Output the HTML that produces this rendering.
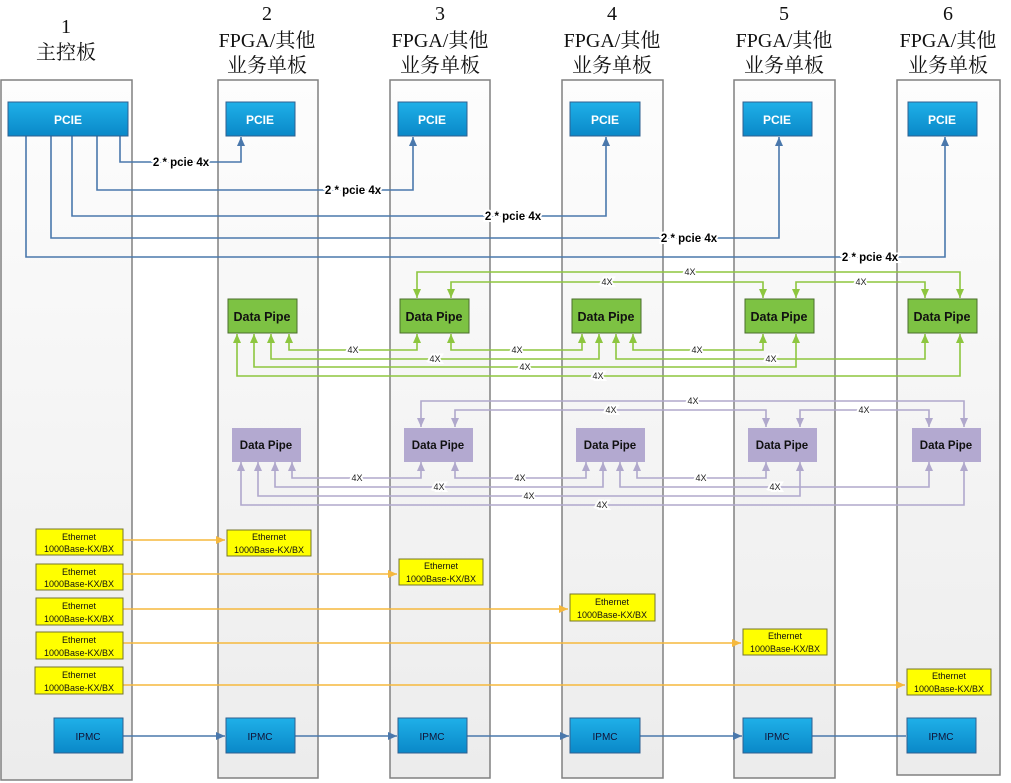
<!DOCTYPE html>
<html><head><meta charset="utf-8"><style>
html,body{margin:0;padding:0;background:#fff;}
svg{display:block;}
.t{font-family:"Liberation Serif","Noto Serif CJK SC",serif;font-size:20px;fill:#111;text-anchor:middle;}
.bl{font-family:"Liberation Sans",sans-serif;font-size:12px;font-weight:bold;fill:#fff;text-anchor:middle;}
.dp{font-family:"Liberation Sans",sans-serif;font-size:12.5px;font-weight:bold;fill:#111;text-anchor:middle;}
.dpp{font-family:"Liberation Sans",sans-serif;font-size:11.5px;font-weight:bold;fill:#111;text-anchor:middle;}
.et{font-family:"Liberation Sans",sans-serif;font-size:9px;fill:#111;text-anchor:middle;}
.ip{font-family:"Liberation Sans",sans-serif;font-size:10px;fill:#113;text-anchor:middle;}
.pl{font-family:"Liberation Sans",sans-serif;font-size:11.5px;font-weight:bold;fill:#000;text-anchor:middle;paint-order:stroke;stroke:#fff;stroke-width:4px;}
.x{font-family:"Liberation Sans",sans-serif;font-size:9px;fill:#222;text-anchor:middle;paint-order:stroke;stroke:#fff;stroke-width:4px;}
.b{fill:none;stroke:#4a78ac;stroke-width:1.6;}
.g{fill:none;stroke:#8dc63f;stroke-width:1.6;}
.p{fill:none;stroke:#b0a8cc;stroke-width:1.6;}
.o{fill:none;stroke:#f5b83d;stroke-width:1.4;}
</style></head><body>
<svg width="1011" height="783" viewBox="0 0 1011 783" xmlns="http://www.w3.org/2000/svg">
<defs>
<linearGradient id="col" x1="0" y1="0" x2="0" y2="1"><stop offset="0" stop-color="#fdfdfd"/><stop offset="1" stop-color="#ececec"/></linearGradient>
<linearGradient id="blue" x1="0" y1="0" x2="0" y2="1"><stop offset="0" stop-color="#1fb0e8"/><stop offset="1" stop-color="#0a88c8"/></linearGradient>
<marker id="ab" markerUnits="userSpaceOnUse" markerWidth="10" markerHeight="10" refX="9" refY="5" orient="auto-start-reverse"><path d="M0,1 L9,5 L0,9 z" fill="#4a78ac"/></marker>
<marker id="ag" markerUnits="userSpaceOnUse" markerWidth="10" markerHeight="10" refX="9" refY="5" orient="auto-start-reverse"><path d="M0,1 L9,5 L0,9 z" fill="#8dc63f"/></marker>
<marker id="ap" markerUnits="userSpaceOnUse" markerWidth="10" markerHeight="10" refX="9" refY="5" orient="auto-start-reverse"><path d="M0,1 L9,5 L0,9 z" fill="#b0a8cc"/></marker>
<marker id="ao" markerUnits="userSpaceOnUse" markerWidth="10" markerHeight="10" refX="9" refY="5" orient="auto"><path d="M0,1 L9,5 L0,9 z" fill="#f5b83d"/></marker>
</defs>

<!-- columns -->
<g fill="url(#col)" stroke="#808080" stroke-width="1.5">
<rect x="1" y="80" width="131" height="700"/>
<rect x="218" y="80" width="100" height="698"/>
<rect x="390" y="80" width="100" height="698"/>
<rect x="562" y="80" width="101" height="698"/>
<rect x="734" y="80" width="101" height="698"/>
<rect x="897" y="80" width="103" height="695"/>
</g>

<!-- titles -->
<text class="t" x="66" y="33">1</text><text class="t" x="66" y="59">主控板</text>
<text class="t" x="267" y="20">2</text><text class="t" x="267" y="47">FPGA/其他</text><text class="t" x="267" y="72">业务单板</text>
<text class="t" x="440" y="20">3</text><text class="t" x="440" y="47">FPGA/其他</text><text class="t" x="440" y="72">业务单板</text>
<text class="t" x="612" y="20">4</text><text class="t" x="612" y="47">FPGA/其他</text><text class="t" x="612" y="72">业务单板</text>
<text class="t" x="784" y="20">5</text><text class="t" x="784" y="47">FPGA/其他</text><text class="t" x="784" y="72">业务单板</text>
<text class="t" x="948" y="20">6</text><text class="t" x="948" y="47">FPGA/其他</text><text class="t" x="948" y="72">业务单板</text>

<!-- PCIE lines -->
<path class="b" d="M120 136 V162 H241 V137" marker-end="url(#ab)"/>
<path class="b" d="M97 136 V190 H413 V137" marker-end="url(#ab)"/>
<path class="b" d="M72 136 V216 H606 V137" marker-end="url(#ab)"/>
<path class="b" d="M51 136 V238 H779 V137" marker-end="url(#ab)"/>
<path class="b" d="M26 136 V257 H945 V137" marker-end="url(#ab)"/>
<text class="pl" x="181" y="166">2 * pcie 4x</text>
<text class="pl" x="353" y="194">2 * pcie 4x</text>
<text class="pl" x="513" y="220">2 * pcie 4x</text>
<text class="pl" x="689" y="242">2 * pcie 4x</text>
<text class="pl" x="870" y="261">2 * pcie 4x</text>

<!-- PCIE boxes -->
<g fill="url(#blue)" stroke="#2f5f8f" stroke-width="1">
<rect x="8" y="102" width="120" height="34"/>
<rect x="226" y="102" width="69" height="34"/>
<rect x="398" y="102" width="69" height="34"/>
<rect x="570" y="102" width="70" height="34"/>
<rect x="743" y="102" width="69" height="34"/>
<rect x="908" y="102" width="69" height="34"/>
</g>
<text class="bl" x="68" y="124">PCIE</text>
<text class="bl" x="260" y="124">PCIE</text>
<text class="bl" x="432" y="124">PCIE</text>
<text class="bl" x="605" y="124">PCIE</text>
<text class="bl" x="777" y="124">PCIE</text>
<text class="bl" x="942" y="124">PCIE</text>

<!-- green lines -->
<g class="g" marker-start="url(#ag)" marker-end="url(#ag)">
<path class="g" d="M417 298 V272 H960 V298"/>
<path class="g" d="M451 298 V282 H763 V298"/>
<path class="g" d="M796 298 V282 H925 V298"/>
<path class="g" d="M289 334 V350 H417 V334"/>
<path class="g" d="M451 334 V350 H582 V334"/>
<path class="g" d="M633 334 V350 H763 V334"/>
<path class="g" d="M271 334 V359 H599 V334"/>
<path class="g" d="M616 334 V359 H925 V334"/>
<path class="g" d="M254 334 V367 H796 V334"/>
<path class="g" d="M237 334 V376 H960 V334"/>
</g>
<text class="x" x="690" y="275">4X</text>
<text class="x" x="607" y="285">4X</text>
<text class="x" x="861" y="285">4X</text>
<text class="x" x="353" y="353">4X</text>
<text class="x" x="517" y="353">4X</text>
<text class="x" x="697" y="353">4X</text>
<text class="x" x="435" y="362">4X</text>
<text class="x" x="771" y="362">4X</text>
<text class="x" x="525" y="370">4X</text>
<text class="x" x="598" y="379">4X</text>

<g fill="#7dc243" stroke="#4a6e2c" stroke-width="1">
<rect x="228" y="299" width="69" height="34"/>
<rect x="400" y="299" width="69" height="34"/>
<rect x="572" y="299" width="69" height="34"/>
<rect x="745" y="299" width="69" height="34"/>
<rect x="908" y="299" width="69" height="34"/>
</g>
<text class="dp" x="262" y="321">Data Pipe</text>
<text class="dp" x="434" y="321">Data Pipe</text>
<text class="dp" x="606" y="321">Data Pipe</text>
<text class="dp" x="779" y="321">Data Pipe</text>
<text class="dp" x="942" y="321">Data Pipe</text>

<!-- purple lines -->
<g class="p" marker-start="url(#ap)" marker-end="url(#ap)">
<path class="p" d="M421 427 V401 H964 V427"/>
<path class="p" d="M455 427 V410 H766 V427"/>
<path class="p" d="M800 427 V410 H929 V427"/>
<path class="p" d="M292 462 V478 H421 V462"/>
<path class="p" d="M455 462 V478 H586 V462"/>
<path class="p" d="M637 462 V478 H766 V462"/>
<path class="p" d="M275 462 V487 H603 V462"/>
<path class="p" d="M620 462 V487 H929 V462"/>
<path class="p" d="M258 462 V496 H800 V462"/>
<path class="p" d="M241 462 V505 H964 V462"/>
</g>
<text class="x" x="693" y="404">4X</text>
<text class="x" x="611" y="413">4X</text>
<text class="x" x="864" y="413">4X</text>
<text class="x" x="357" y="481">4X</text>
<text class="x" x="520" y="481">4X</text>
<text class="x" x="701" y="481">4X</text>
<text class="x" x="439" y="490">4X</text>
<text class="x" x="775" y="490">4X</text>
<text class="x" x="529" y="499">4X</text>
<text class="x" x="602" y="508">4X</text>

<g fill="#b3a9d0">
<rect x="232" y="428" width="69" height="34"/>
<rect x="404" y="428" width="69" height="34"/>
<rect x="576" y="428" width="69" height="34"/>
<rect x="748" y="428" width="69" height="34"/>
<rect x="912" y="428" width="69" height="34"/>
</g>
<text class="dpp" x="266" y="449">Data Pipe</text>
<text class="dpp" x="438" y="449">Data Pipe</text>
<text class="dpp" x="610" y="449">Data Pipe</text>
<text class="dpp" x="782" y="449">Data Pipe</text>
<text class="dpp" x="946" y="449">Data Pipe</text>

<!-- ethernet lines -->
<path class="o" d="M123 540 H225" marker-end="url(#ao)"/>
<path class="o" d="M123 574 H397" marker-end="url(#ao)"/>
<path class="o" d="M123 609 H568" marker-end="url(#ao)"/>
<path class="o" d="M123 643 H741" marker-end="url(#ao)"/>
<path class="o" d="M123 685 H905" marker-end="url(#ao)"/>

<g fill="#ffff00" stroke="#76762e" stroke-width="1">
<rect x="36" y="529" width="87" height="26"/>
<rect x="36" y="564" width="87" height="26"/>
<rect x="36" y="598" width="87" height="27"/>
<rect x="36" y="632" width="87" height="27"/>
<rect x="35" y="667" width="88" height="27"/>
<rect x="227" y="530" width="84" height="26"/>
<rect x="399" y="559" width="84" height="26"/>
<rect x="570" y="594" width="85" height="27"/>
<rect x="743" y="629" width="84" height="26"/>
<rect x="907" y="669" width="84" height="26"/>
</g>
<g class="et">
<text x="79" y="540">Ethernet</text><text x="79" y="552">1000Base-KX/BX</text>
<text x="79" y="575">Ethernet</text><text x="79" y="587">1000Base-KX/BX</text>
<text x="79" y="609">Ethernet</text><text x="79" y="622">1000Base-KX/BX</text>
<text x="79" y="643">Ethernet</text><text x="79" y="656">1000Base-KX/BX</text>
<text x="79" y="678">Ethernet</text><text x="79" y="691">1000Base-KX/BX</text>
<text x="269" y="540">Ethernet</text><text x="269" y="553">1000Base-KX/BX</text>
<text x="441" y="569">Ethernet</text><text x="441" y="582">1000Base-KX/BX</text>
<text x="612" y="605">Ethernet</text><text x="612" y="618">1000Base-KX/BX</text>
<text x="785" y="639">Ethernet</text><text x="785" y="652">1000Base-KX/BX</text>
<text x="949" y="679">Ethernet</text><text x="949" y="692">1000Base-KX/BX</text>
</g>

<!-- IPMC -->
<path class="b" d="M123 736 H225" marker-end="url(#ab)"/>
<path class="b" d="M295 736 H397" marker-end="url(#ab)"/>
<path class="b" d="M467 736 H569" marker-end="url(#ab)"/>
<path class="b" d="M640 736 H742" marker-end="url(#ab)"/>
<path class="b" d="M812 736 H906"/>
<g fill="url(#blue)" stroke="#2f5f8f" stroke-width="1">
<rect x="54" y="718" width="69" height="35"/>
<rect x="226" y="718" width="69" height="35"/>
<rect x="398" y="718" width="69" height="35"/>
<rect x="570" y="718" width="70" height="35"/>
<rect x="743" y="718" width="69" height="35"/>
<rect x="907" y="718" width="69" height="35"/>
</g>
<g class="ip">
<text x="88" y="740">IPMC</text>
<text x="260" y="740">IPMC</text>
<text x="432" y="740">IPMC</text>
<text x="605" y="740">IPMC</text>
<text x="777" y="740">IPMC</text>
<text x="941" y="740">IPMC</text>
</g>
</svg>
</body></html>
